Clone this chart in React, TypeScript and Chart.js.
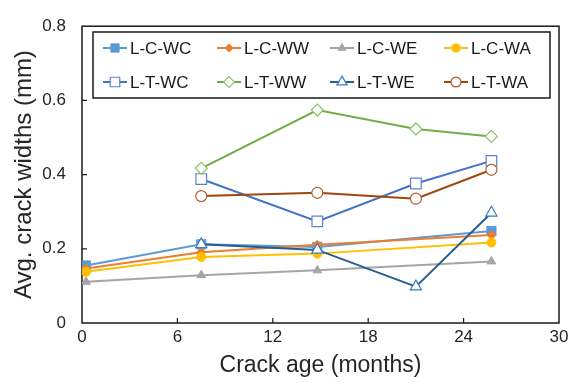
import React, { useEffect, useRef } from "react";
import { Chart, registerables } from "chart.js";
import { drawPoint } from "chart.js/helpers";
Chart.register(...registerables);

// Crack age (months) at which each group was measured
const ageLC = [0.25, 7.5, 14.8, 25.75];
const ageLT = [7.5, 14.8, 21, 25.75];

// Average crack widths (mm)
const lcWC = [0.155, 0.212, 0.205, 0.248];
const lcWW = [0.147, 0.191, 0.211, 0.237];
const lcWE = [0.111, 0.129, 0.142, 0.166];
const lcWA = [0.138, 0.178, 0.187, 0.217];
const ltWC = [0.388, 0.274, 0.376, 0.437];
const ltWW = [0.417, 0.574, 0.523, 0.503];
const ltWE = [0.212, 0.197, 0.098, 0.297];
const ltWA = [0.342, 0.351, 0.335, 0.413];

const seriesNames = ["L-C-WC", "L-C-WW", "L-C-WE", "L-C-WA", "L-T-WC", "L-T-WW", "L-T-WE", "L-T-WA"];
const seriesAges = [ageLC, ageLC, ageLC, ageLC, ageLT, ageLT, ageLT, ageLT];
const seriesValues = [lcWC, lcWW, lcWE, lcWA, ltWC, ltWW, ltWE, ltWA];

const xTickValues = [0, 6, 12, 18, 24, 30];
const yTickValues = [0, 0.2, 0.4, 0.6, 0.8];

const xTitle = "Crack age (months)";
const yTitle = "Avg. crack widths (mm)";

const styles = [
  { line: "#5B9BD5", shape: "rect", r: 6.5, fill: "#5B9BD5", border: "#5B9BD5", bw: 1 },
  { line: "#ED7D31", shape: "rectRot", r: 4.5, fill: "#ED7D31", border: "#ED7D31", bw: 1 },
  { line: "#A5A5A5", shape: "triangle", r: 5, fill: "#A5A5A5", border: "#A5A5A5", bw: 1 },
  { line: "#FFC000", shape: "circle", r: 4.5, fill: "#FFC000", border: "#FFC000", bw: 1 },
  { line: "#4472C4", shape: "rect", r: 7.5, fill: "#FFFFFF", border: "#5B82D0", bw: 1.2 },
  { line: "#70AD47", shape: "rectRot", r: 6, fill: "#FFFFFF", border: "#8CC46A", bw: 1.2 },
  { line: "#255E91", shape: "triangle", r: 6.5, fill: "#FFFFFF", border: "#3A7CC2", bw: 1.2 },
  { line: "#9E480E", shape: "circle", r: 5.5, fill: "#FFFFFF", border: "#B0612E", bw: 1.2 },
];

const FONT = "'Liberation Sans', Arial, sans-serif";

const boxPlugin = {
  id: "boxPlugin",
  beforeDatasetsDraw(chart: any) {
    const { ctx, chartArea: a, scales } = chart;
    ctx.save();
    ctx.strokeStyle = "#1a1a1a";
    ctx.lineWidth = 1.5;
    ctx.strokeRect(a.left, a.top, a.right - a.left, a.bottom - a.top);
    ctx.lineWidth = 1.2;
    ctx.beginPath();
    xTickValues.slice(1, -1).forEach((v) => {
      const x = scales.x.getPixelForValue(v);
      ctx.moveTo(x, a.bottom);
      ctx.lineTo(x, a.bottom - 5);
    });
    yTickValues.slice(1, -1).forEach((v) => {
      const y = scales.y.getPixelForValue(v);
      ctx.moveTo(a.left, y);
      ctx.lineTo(a.left + 5, y);
    });
    ctx.stroke();
    ctx.restore();
  },
};

const legendPlugin = {
  id: "boxLegend",
  afterDraw(chart: any) {
    const { ctx } = chart;
    ctx.save();
    const bx = 93, by = 32, bw = 457, bh = 66;
    ctx.fillStyle = "#FFFFFF";
    ctx.fillRect(bx, by, bw, bh);
    ctx.strokeStyle = "#1a1a1a";
    ctx.lineWidth = 1.5;
    ctx.strokeRect(bx, by, bw, bh);
    const colX = [103, 217, 330, 444];
    const rowY = [48, 82];
    ctx.font = `17px ${FONT}`;
    ctx.textBaseline = "middle";
    ctx.textAlign = "left";
    seriesNames.forEach((name, i) => {
      const s = styles[i];
      const x = colX[i % 4];
      const y = rowY[Math.floor(i / 4)];
      ctx.strokeStyle = s.line;
      ctx.lineWidth = 2;
      ctx.beginPath();
      ctx.moveTo(x, y);
      ctx.lineTo(x + 24, y);
      ctx.stroke();
      ctx.fillStyle = s.fill;
      ctx.strokeStyle = s.border;
      ctx.lineWidth = s.bw;
      drawPoint(ctx, { pointStyle: s.shape, radius: s.r * 0.9, rotation: 0, borderWidth: s.bw }, x + 12, y);
      ctx.fillStyle = "#1a1a1a";
      ctx.fillText(name, x + 27, y + 1);
    });
    ctx.restore();
  },
};

export default function App() {
  const ref = useRef<HTMLCanvasElement | null>(null);
  useEffect(() => {
    document.body.style.margin = "0";
    const canvas = ref.current!;
    const datasets = seriesNames.map((name, i) => {
      const s = styles[i];
      return {
        label: name,
        data: seriesAges[i].map((x, j) => ({ x, y: seriesValues[i][j] })),
        borderColor: s.line,
        borderWidth: 2,
        pointStyle: s.shape,
        pointRadius: s.r,
        pointBackgroundColor: s.fill,
        pointBorderColor: s.border,
        pointBorderWidth: s.bw,
        fill: false,
        tension: 0,
        order: seriesNames.length - i,
      };
    });
    const chart = new Chart(canvas, {
      type: "line",
      data: { datasets },
      options: {
        responsive: false,
        animation: false,
        layout: { padding: { top: 21, right: 17, left: 0, bottom: 0 } },
        plugins: { legend: { display: false }, tooltip: { enabled: false } },
        scales: {
          x: {
            type: "linear",
            min: 0,
            max: 30,
            afterFit: (s: any) => { s.height = 60; },
            afterBuildTicks: (s: any) => { s.ticks = xTickValues.map((v) => ({ value: v })); },
            grid: { display: false, drawTicks: false },
            border: { display: false },
            ticks: { font: { family: FONT, size: 17 }, color: "#262626", padding: 4 },
            title: { display: true, text: xTitle, font: { family: FONT, size: 23 }, color: "#262626", padding: { top: 0, bottom: 4 } },
          },
          y: {
            type: "linear",
            min: 0,
            max: 0.8,
            afterFit: (s: any) => { s.width = 82; },
            afterBuildTicks: (s: any) => { s.ticks = yTickValues.map((v) => ({ value: v })); },
            grid: { display: false, drawTicks: false },
            border: { display: false },
            ticks: { font: { family: FONT, size: 17 }, color: "#262626", padding: 16 },
            title: { display: true, text: yTitle, font: { family: FONT, size: 24 }, color: "#262626", padding: { top: 10, bottom: 0 } },
          },
        },
      },
      plugins: [boxPlugin, legendPlugin],
    } as any);
    return () => chart.destroy();
  }, []);
  return (
    <div style={{ width: 576, height: 383, background: "#fff" }}>
      <canvas ref={ref} width={576} height={383} style={{ display: "block", width: 576, height: 383 }} />
    </div>
  );
}
